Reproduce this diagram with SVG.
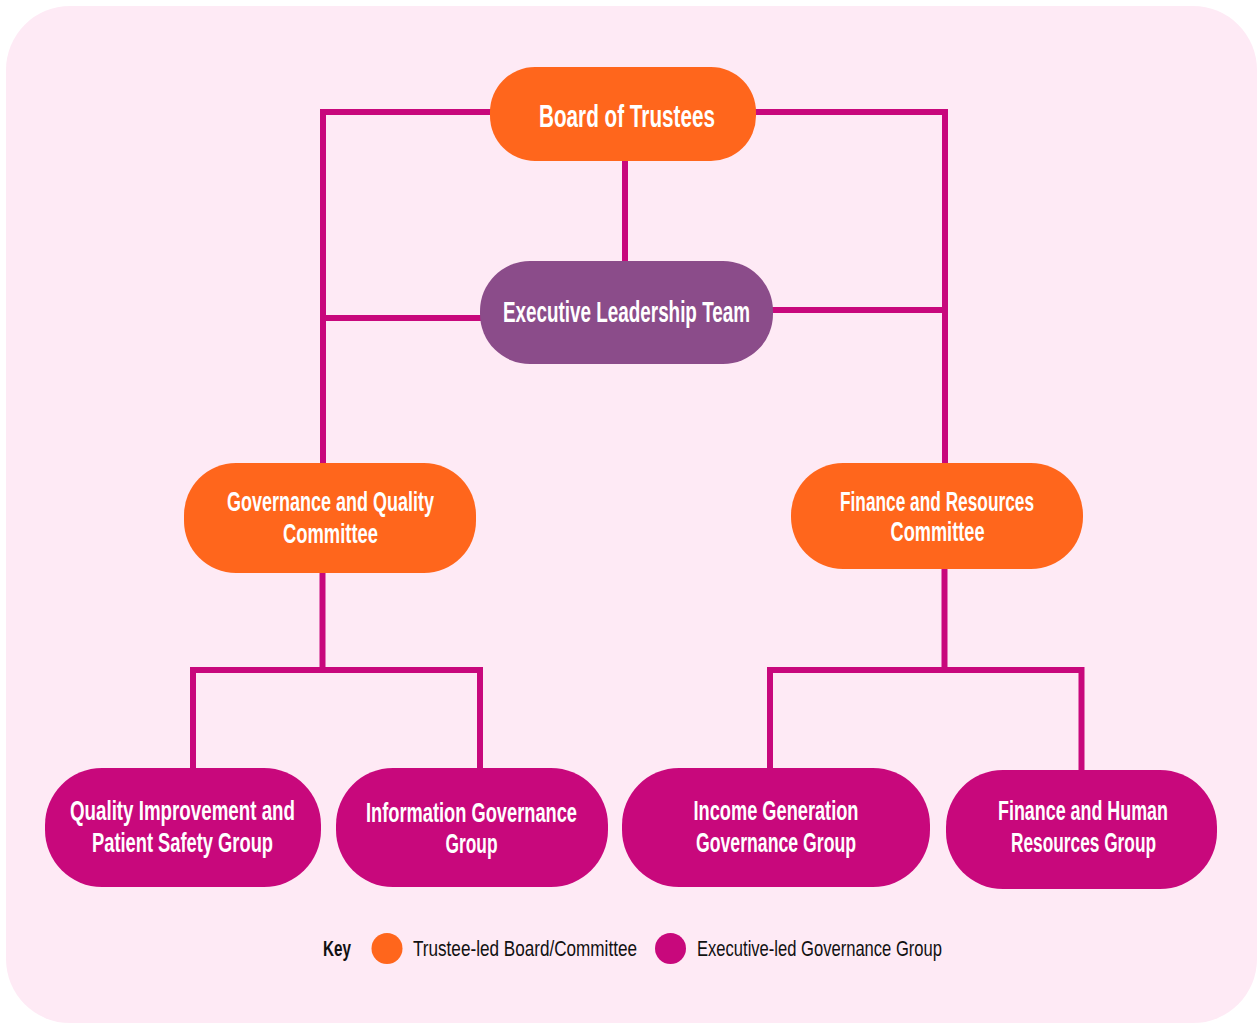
<svg xmlns="http://www.w3.org/2000/svg" width="1257" height="1023" viewBox="0 0 1257 1023">
<style>
.bg{fill:#FEEAF5}
.conn{fill:none;stroke:#C8087C;stroke-width:6;stroke-linejoin:miter;stroke-linecap:butt}
.trustee{fill:#FF661C}
.exec{fill:#8B4C8A}
.group{fill:#C8087C}
.lbl{font-family:"Liberation Sans",Arial,sans-serif;font-weight:bold;fill:#FFFFFF;text-anchor:middle}
.key{font-family:"Liberation Sans",Arial,sans-serif;fill:#111111;font-size:22px}
</style>
<rect class="bg" x="6" y="6" width="1251" height="1017" rx="64" ry="64"/>
<g id="connectors">
  <path class="conn" d="M492,112 H323 V465"/>
  <path class="conn" d="M754,112 H945 V465"/>
  <path class="conn" d="M625,159 V263"/>
  <path class="conn" d="M323,318 H483"/>
  <path class="conn" d="M771,310 H945"/>
  <path class="conn" d="M322.5,571 V670"/>
  <path class="conn" d="M193,770 V670 H480 V770"/>
  <path class="conn" d="M944.5,567 V670"/>
  <path class="conn" d="M770,770 V670 H1081.5 V772"/>
</g>
<g id="board">
  <rect class="trustee" x="490" y="67" width="266" height="94" rx="45" ry="45"/>
  <text class="lbl" x="627" y="127" font-size="32" textLength="176" lengthAdjust="spacingAndGlyphs">Board of Trustees</text>
</g>
<g id="elt">
  <rect class="exec" x="480" y="261" width="293" height="103" rx="50" ry="50"/>
  <text class="lbl" x="626.5" y="322" font-size="29" textLength="247" lengthAdjust="spacingAndGlyphs">Executive Leadership Team</text>
</g>
<g id="gqc">
  <rect class="trustee" x="184" y="463" width="292" height="110" rx="52" ry="52"/>
  <text class="lbl" x="330.5" y="511" font-size="27" textLength="207" lengthAdjust="spacingAndGlyphs">Governance and Quality</text>
  <text class="lbl" x="330.5" y="543" font-size="27" textLength="95" lengthAdjust="spacingAndGlyphs">Committee</text>
</g>
<g id="frc">
  <rect class="trustee" x="791" y="463" width="292" height="106" rx="52" ry="52"/>
  <text class="lbl" x="937" y="511" font-size="27" textLength="194" lengthAdjust="spacingAndGlyphs">Finance and Resources</text>
  <text class="lbl" x="937.5" y="541" font-size="27" textLength="94" lengthAdjust="spacingAndGlyphs">Committee</text>
</g>
<g id="qips">
  <rect class="group" x="45" y="768" width="276" height="119" rx="57" ry="57"/>
  <text class="lbl" x="182.5" y="820" font-size="27" textLength="225" lengthAdjust="spacingAndGlyphs">Quality Improvement and</text>
  <text class="lbl" x="182.5" y="852" font-size="27" textLength="181" lengthAdjust="spacingAndGlyphs">Patient Safety Group</text>
</g>
<g id="igg1">
  <rect class="group" x="336" y="768" width="272" height="119" rx="57" ry="57"/>
  <text class="lbl" x="471.5" y="822" font-size="27" textLength="211" lengthAdjust="spacingAndGlyphs">Information Governance</text>
  <text class="lbl" x="471.5" y="853" font-size="27" textLength="52" lengthAdjust="spacingAndGlyphs">Group</text>
</g>
<g id="iggg">
  <rect class="group" x="622" y="768" width="308" height="119" rx="57" ry="57"/>
  <text class="lbl" x="776" y="820" font-size="27" textLength="165" lengthAdjust="spacingAndGlyphs">Income Generation</text>
  <text class="lbl" x="776" y="852" font-size="27" textLength="160" lengthAdjust="spacingAndGlyphs">Governance Group</text>
</g>
<g id="fhrg">
  <rect class="group" x="946" y="770" width="271" height="119" rx="57" ry="57"/>
  <text class="lbl" x="1083" y="820" font-size="27" textLength="170" lengthAdjust="spacingAndGlyphs">Finance and Human</text>
  <text class="lbl" x="1083.5" y="852" font-size="27" textLength="145" lengthAdjust="spacingAndGlyphs">Resources Group</text>
</g>
<g id="key">
  <text class="key" x="323" y="956" font-weight="bold" textLength="28" lengthAdjust="spacingAndGlyphs">Key</text>
  <ellipse class="trustee" cx="387" cy="948.5" rx="15.5" ry="15.5"/>
  <text class="key" x="413" y="956" textLength="224" lengthAdjust="spacingAndGlyphs">Trustee-led Board/Committee</text>
  <ellipse class="group" cx="670.5" cy="948.5" rx="15.5" ry="15.5"/>
  <text class="key" x="697" y="956" textLength="245" lengthAdjust="spacingAndGlyphs">Executive-led Governance Group</text>
</g>
</svg>
